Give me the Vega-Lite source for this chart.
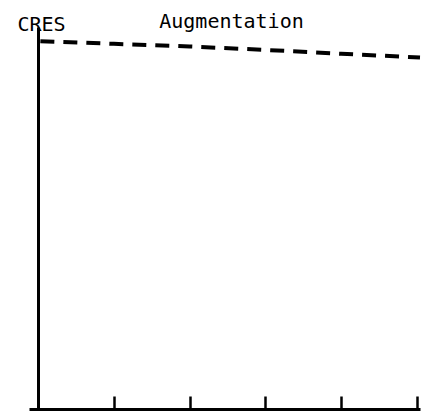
{
  "$schema": "https://vega.github.io/schema/vega-lite/v6.json",
  "width": 391,
  "height": 382,
  "autosize": {"type": "none"},
  "padding": {"left": 29, "top": 27, "right": 2, "bottom": 7},
  "background": "white",
  "title": {
    "text": "Augmentation",
    "font": "DejaVu Sans Mono",
    "fontSize": 20,
    "fontWeight": "normal",
    "color": "black",
    "anchor": "middle",
    "frame": "group",
    "baseline": "alphabetic",
    "offset": 0,
    "dx": 7,
    "dy": 34
  },
  "data": {
    "values": [
      {"t": 0.03, "cres": 0.963},
      {"t": 1, "cres": 0.956},
      {"t": 2, "cres": 0.949},
      {"t": 3, "cres": 0.94},
      {"t": 4, "cres": 0.93},
      {"t": 5.04, "cres": 0.92}
    ]
  },
  "mark": {"type": "line", "color": "black", "strokeWidth": 4, "strokeDash": [14, 9], "strokeCap": "butt", "clip": false},
  "encoding": {
    "x": {
      "field": "t",
      "type": "quantitative",
      "scale": {"domain": [-0.12, 5.04], "nice": false, "zero": false},
      "axis": {
        "values": [0, 1, 2, 3, 4, 5],
        "labels": false,
        "title": null,
        "grid": false,
        "domainColor": "black",
        "domainWidth": 3,
        "tickColor": "black",
        "tickWidth": 2.5,
        "tickSize": -13
      }
    },
    "y": {
      "field": "cres",
      "type": "quantitative",
      "scale": {"domain": [0, 1], "nice": false},
      "axis": {
        "offset": -9,
        "ticks": false,
        "labels": false,
        "grid": false,
        "domainColor": "black",
        "domainWidth": 3,
        "title": "CRES",
        "titleFont": "DejaVu Sans Mono",
        "titleFontSize": 20,
        "titleFontWeight": "normal",
        "titleColor": "black",
        "titleAngle": 0,
        "titleAlign": "left",
        "titleBaseline": "alphabetic",
        "titleX": -21,
        "titleY": 3
      }
    }
  },
  "config": {"view": {"stroke": null}}
}
